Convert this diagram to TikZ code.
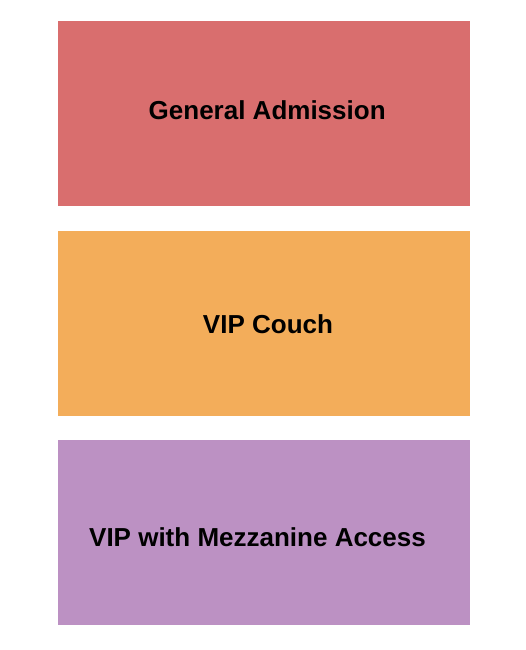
\documentclass[tikz,border=0pt]{standalone}
\usepackage{fontspec}
\usepackage{xcolor}
\setmainfont{Liberation Sans}
\definecolor{gared}{RGB}{217,110,110}
\definecolor{couchorange}{RGB}{243,173,90}
\definecolor{mezzpurple}{RGB}{188,145,195}

\begin{document}
\begin{tikzpicture}[x=1pt,y=-1pt,
        section/.style={draw=none,rectangle,inner sep=0pt,anchor=north west,
            minimum width=412.5pt,minimum height=185pt},
        seatlabel/.style={anchor=base,inner sep=0pt,
            font=\fontsize{26}{30}\selectfont\bfseries}]
            \useasboundingbox (0,0) rectangle (525,650);
    
            \node[section,fill=gared] (ga) at (57.5,21) {};
            \node[section,fill=couchorange] (couch) at (57.5,230.5) {};
            \node[section,fill=mezzpurple] (mezz) at (57.5,440) {};
    
            \node[seatlabel] (galabel) at (267.2,119.5) {General Admission};
            \node[seatlabel] (couchlabel) at (268,333.3) {VIP Couch};
            \node[seatlabel] (mezzlabel) at (257.5,546) {VIP with Mezzanine Access};
        \end{tikzpicture}
\end{document}
